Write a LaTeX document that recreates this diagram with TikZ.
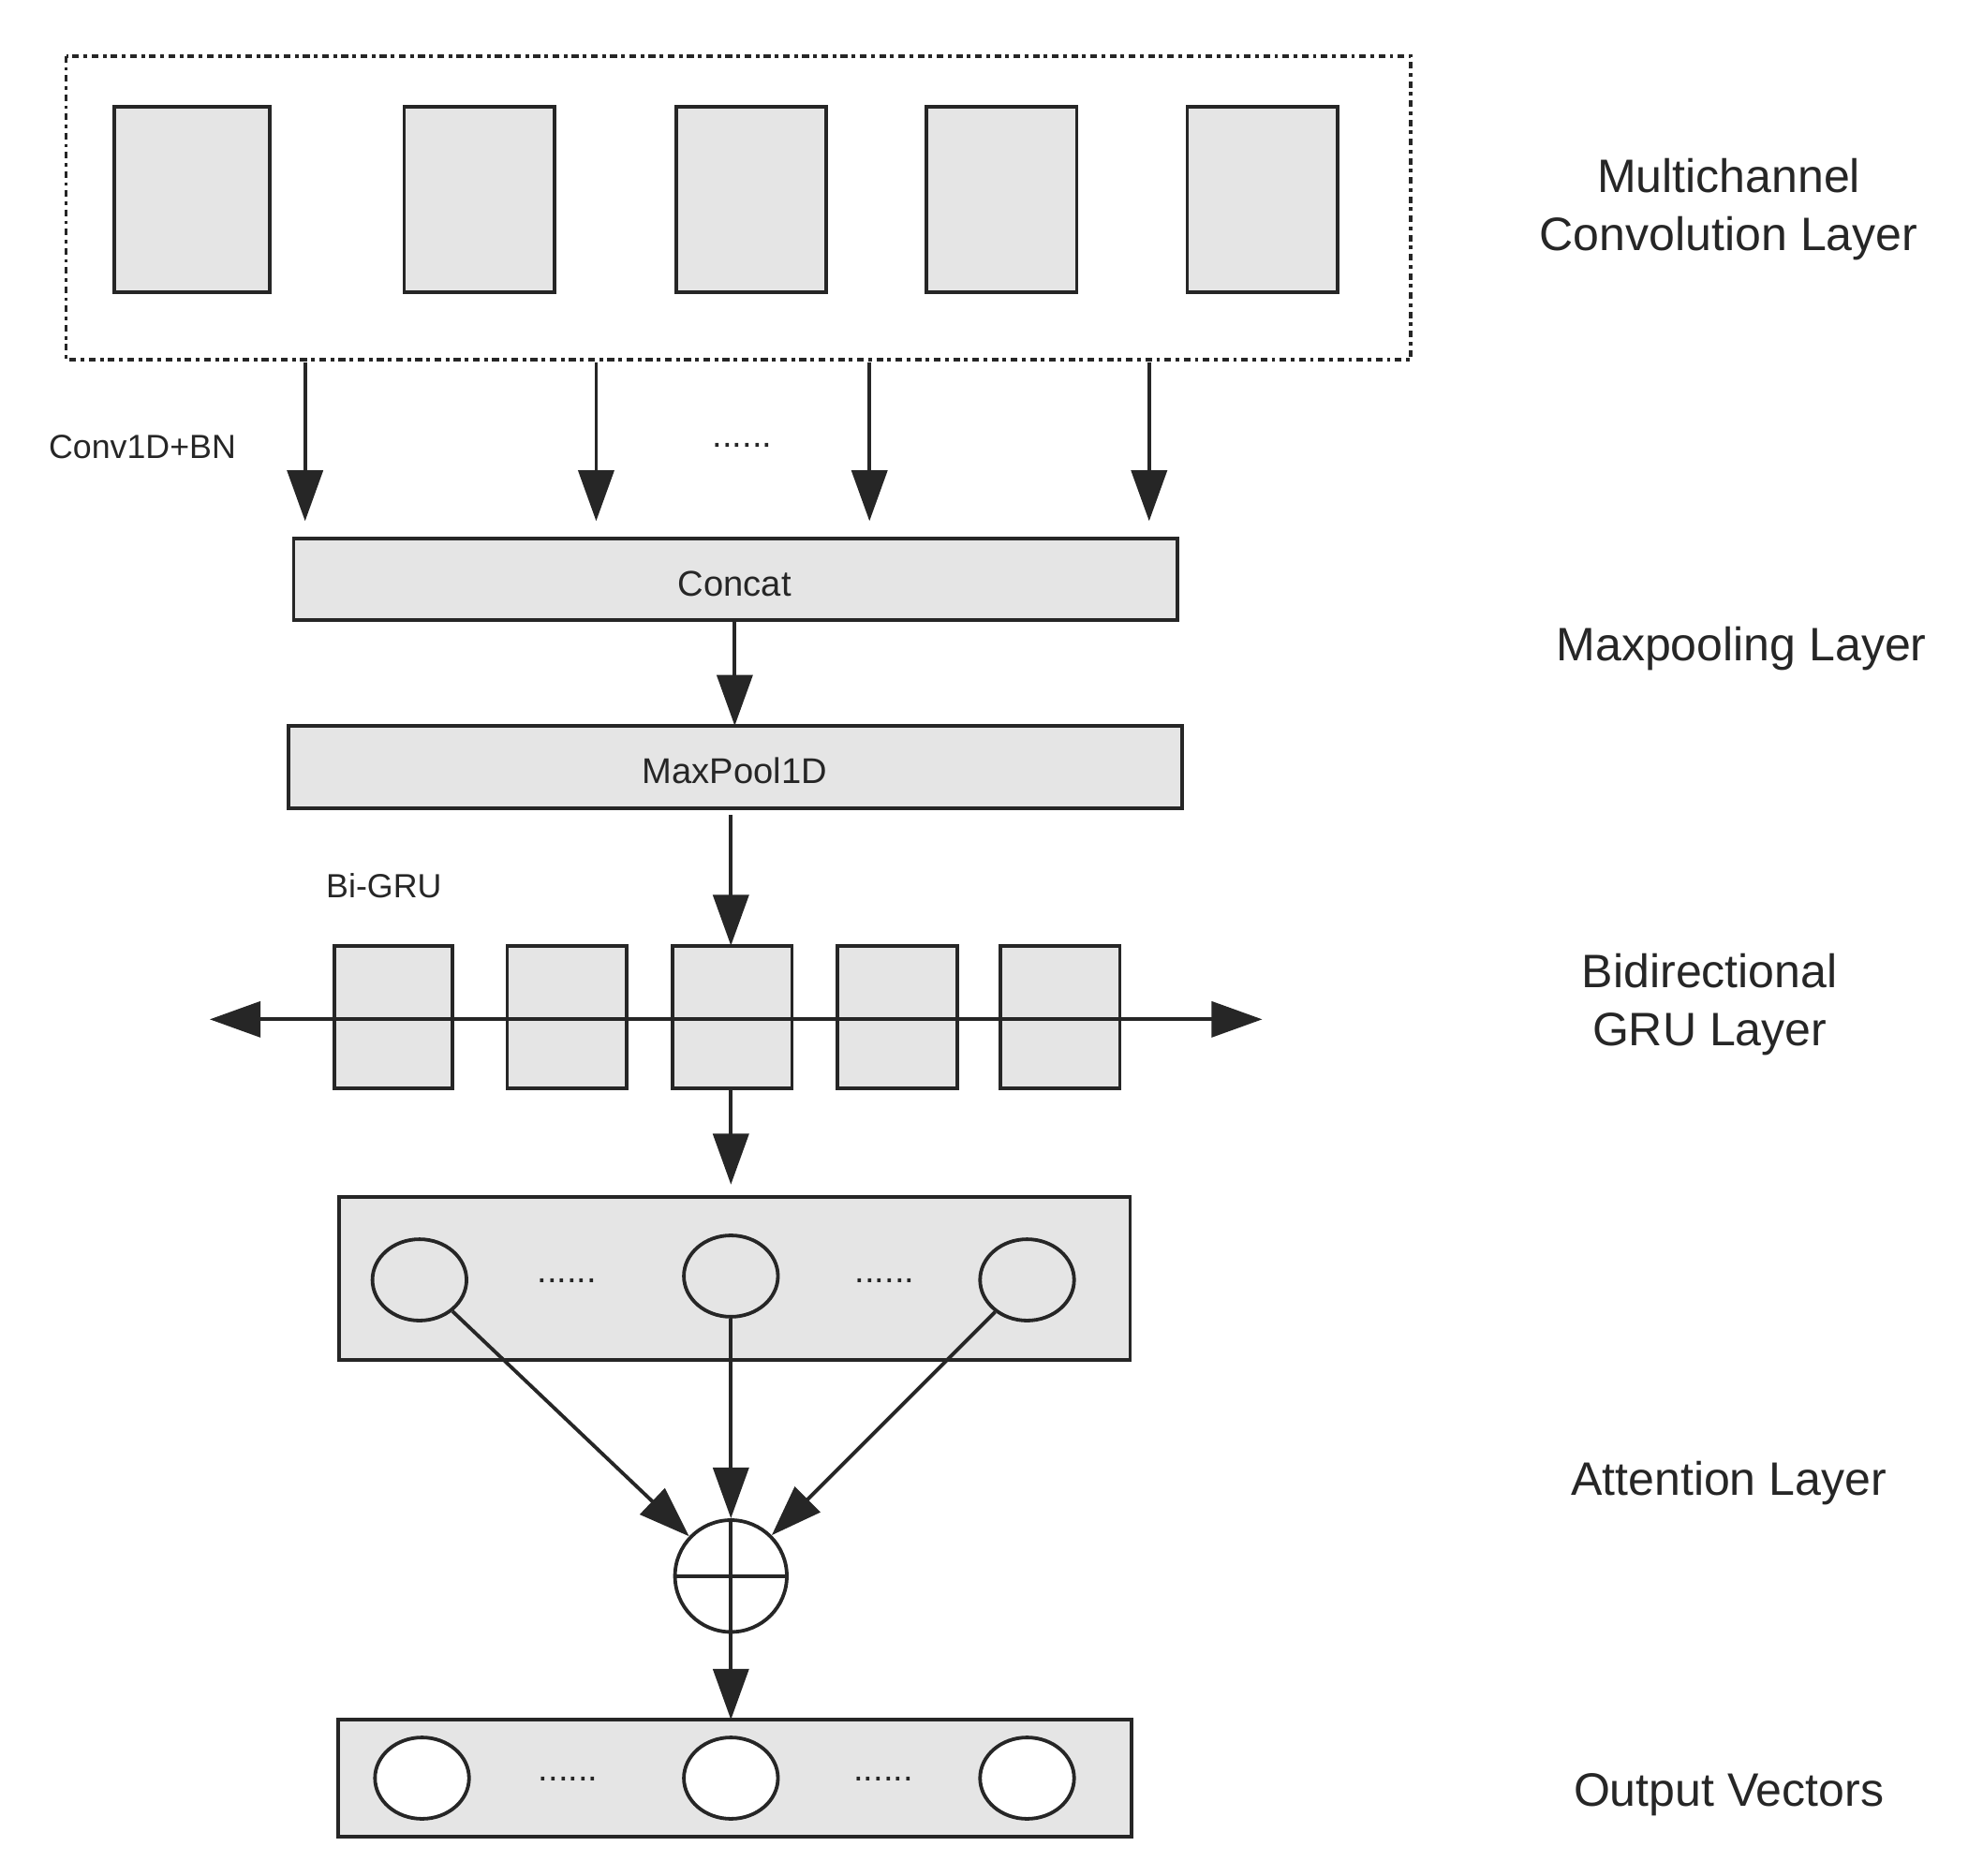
\documentclass[tikz,border=0pt]{standalone}
\usepackage{fontspec}
\setmainfont{Liberation Sans}
\usetikzlibrary{arrows.meta,shapes.geometric}
\begin{document}
\begin{tikzpicture}[x=0.02cm,y=-0.02cm,
  ln/.style={line width=1.6pt,draw=black!85},
  box/.style={ln,fill=black!10},
  arr/.style={ln,-{Triangle[length=0.8cm,width=0.56cm]}},
  big/.style={font=\fontsize{21}{26}\selectfont,align=center,text=black!85},
  small/.style={font=\fontsize{15}{18}\selectfont,text=black!85},
  mid/.style={font=\fontsize{16}{19}\selectfont,text=black!85},
  ell/.style={ln,ellipse,minimum width=74*0.02cm,minimum height=64*0.02cm,inner sep=0pt}]
\useasboundingbox (0,0) rectangle (1560,1476);
% conv layer
\draw[ln,dash dot] (52,44) rectangle (1110,283);
\foreach \a/\b/\n in {90/212/c1,318/436/c2,532/650/c3,729/847/c4,934/1052/c5}
  \draw[box] (\a,84) rectangle (\b,230);
\node[big] (lconv) at (1360,165) {Multichannel\\Convolution Layer};
\foreach \x/\n in {240/a,469/b,684/c,904/d}{
  \coordinate (s\n) at (\x,285); \coordinate (e\n) at (\x,410);
  \draw[arr] (s\n) -- (e\n);}
\node[small] (cbn) at (112,352) {Conv1D+BN};
\node[mid] (d0) at (584,350) {......};
% concat
\draw[box] (231,424) rectangle (926,488);
\node[mid] (concat) at (578,459) {Concat};
\coordinate (cb) at (578,488); \coordinate (mt) at (578,571);
\draw[arr] (cb) -- (mt);
\draw[box] (227,571) rectangle (930,636);
\node[mid] (mp) at (578,606) {MaxPool1D};
\node[big] (lmp) at (1370,510) {Maxpooling Layer};
\coordinate (mb) at (575,641); \coordinate (gt) at (575,744);
\draw[arr] (mb) -- (gt);
\node[small] (bigru) at (302,697) {Bi-GRU};
% GRU
\foreach \a/\b in {263/356,399/493,529/623,659/753,787/881}
  \draw[box] (\a,744) rectangle (\b,856);
\coordinate (gl) at (165,802); \coordinate (gr) at (993,802);
\draw[ln,{Triangle[length=0.8cm,width=0.56cm]}-{Triangle[length=0.8cm,width=0.56cm]}] (gl) -- (gr);
\node[big] (lgru) at (1345,790) {Bidirectional\\GRU Layer};
\coordinate (gb) at (575,856); \coordinate (at) at (575,932);
\draw[arr] (gb) -- (at);
% attention
\draw[box] (267,942) rectangle (889,1070);
\node[ell,fill=black!10] (e1) at (330,1007) {};
\node[ell,fill=black!10] (e2) at (575,1004) {};
\node[ell,fill=black!10] (e3) at (808,1007) {};
\node[mid] at (446,1008) {......};
\node[mid] at (696,1008) {......};
\node[ln,circle,minimum size=88*0.02cm,inner sep=0pt] (op) at (575,1240) {};
\draw[ln] (op.north) -- (op.south) (op.west) -- (op.east);
\draw[arr] (e1) -- (op);
\draw[arr] (e2) -- (op);
\draw[arr] (e3) -- (op);
\node[big] (latt) at (1360,1167) {Attention Layer};
% output
\coordinate (ot) at (575,1353);
\draw[arr] (op.south) -- (ot);
\draw[box] (266,1353) rectangle (890,1445);
\node[ell,fill=white] (o1) at (332,1399) {};
\node[ell,fill=white] (o2) at (575,1399) {};
\node[ell,fill=white] (o3) at (808,1399) {};
\node[mid] at (447,1400) {......};
\node[mid] at (695,1400) {......};
\node[big] (lout) at (1360,1412) {Output Vectors};
\end{tikzpicture}
\end{document}
